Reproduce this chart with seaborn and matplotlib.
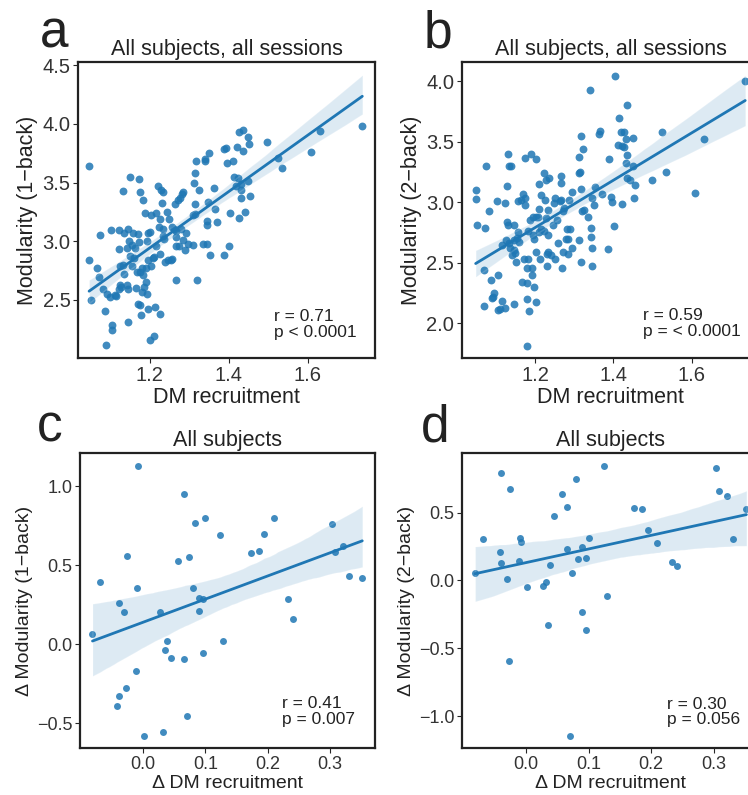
import numpy as np
import pandas as pd
import matplotlib.pyplot as plt
import seaborn as sns

# Panel a: DM recruitment vs modularity (1-back), all subjects, all sessions
dm_a = [1.738, 1.632, 1.609, 1.524, 1.536, 1.498, 1.435, 1.427, 1.450, 1.451,
        1.420, 1.435, 1.393, 1.389, 1.350, 1.341, 1.341, 1.396, 1.412, 1.414,
        1.423, 1.418, 1.432, 1.450, 1.432, 1.454, 1.431, 1.364, 1.325, 1.348,
        1.366, 1.344, 1.344, 1.371, 1.404, 1.425, 1.442, 1.335, 1.345, 1.402,
        1.354, 1.387,
        1.047, 1.151, 1.174, 1.222, 1.134, 1.175, 1.230, 1.234, 1.284, 1.282,
        1.183, 1.278, 1.273, 1.232, 1.265, 1.314, 1.315, 1.313, 1.317, 1.189,
        1.203, 1.216, 1.245, 1.227, 1.249, 1.310, 1.315, 1.102, 1.122, 1.145,
        1.136, 1.157, 1.171, 1.195, 1.202, 1.223, 1.235, 1.257, 1.262, 1.266,
        1.280, 1.293, 1.075, 1.233, 1.268, 1.237, 1.194, 1.174, 1.147, 1.285,
        1.296, 1.310, 1.156, 1.164, 1.144, 1.216, 1.267, 1.274, 1.290, 1.123,
        1.227, 1.151, 1.161, 1.197, 1.208, 1.211, 1.238, 1.247, 1.254, 1.257,
        1.132, 1.126, 1.180, 1.192, 1.203, 1.156, 1.047, 1.068, 1.175, 1.168,
        1.184, 1.135, 1.071, 1.191, 1.267, 1.319, 1.124, 1.143, 1.186, 1.127,
        1.122, 1.145, 1.166, 1.081, 1.092, 1.100, 1.112, 1.116, 1.180, 1.194,
        1.052, 1.170, 1.177, 1.195, 1.213, 1.086, 1.178, 1.226, 1.145, 1.106,
        1.104, 1.201, 1.211, 1.090]
mod_1back = [3.983, 3.943, 3.764, 3.707, 3.622, 3.849, 3.949, 3.929, 3.884, 3.832,
             3.801, 3.773, 3.798, 3.784, 3.756, 3.702, 3.685, 3.670, 3.685, 3.543,
             3.537, 3.474, 3.438, 3.509, 3.489, 3.389, 3.366, 3.452, 3.432, 3.330,
             3.276, 3.173, 3.139, 3.162, 3.239, 3.196, 3.247, 2.974, 2.977, 2.960,
             2.881, 2.878,
             3.642, 3.545, 3.526, 3.474, 3.429, 3.415, 3.432, 3.415, 3.415, 3.401,
             3.355, 3.372, 3.347, 3.324, 3.315, 3.318, 3.585, 3.497, 3.685, 3.244,
             3.224, 3.241, 3.247, 3.190, 3.188, 3.222, 3.230, 3.091, 3.097, 3.105,
             3.068, 3.068, 3.063, 3.071, 3.074, 3.122, 3.105, 3.122, 3.105, 3.088,
             3.102, 3.068, 3.051, 3.040, 3.034, 3.017, 3.003, 2.991, 3.003, 3.006,
             2.974, 2.966, 2.966, 2.940, 2.938, 2.955, 2.955, 2.955, 2.926, 2.929,
             2.889, 2.869, 2.855, 2.841, 2.855, 2.864, 2.818, 2.841, 2.841, 2.849,
             2.798, 2.784, 2.770, 2.770, 2.784, 2.784, 2.835, 2.770, 2.736, 2.733,
             2.713, 2.719, 2.693, 2.653, 2.670, 2.668, 2.628, 2.628, 2.605, 2.605,
             2.594, 2.594, 2.599, 2.591, 2.548, 2.526, 2.537, 2.528, 2.562, 2.551,
             2.500, 2.463, 2.457, 2.420, 2.436, 2.403, 2.369, 2.375, 2.310, 2.281,
             2.244, 2.159, 2.188, 2.111]

# Panel b: DM recruitment vs modularity (2-back)
dm_b = [1.131, 1.075, 1.133, 1.139, 1.175, 1.190, 1.203, 1.048, 1.048, 1.129,
        1.103, 1.124, 1.083, 1.157, 1.164, 1.169, 1.174, 1.175, 1.209, 1.223,
        1.227, 1.236, 1.265, 1.265, 1.216, 1.224, 1.209, 1.233, 1.251, 1.249,
        1.264, 1.267, 1.273, 1.270, 1.286, 1.294, 1.318, 1.315, 1.312, 1.312,
        1.323, 1.316, 1.052, 1.072, 1.129, 1.130, 1.146, 1.186, 1.194, 1.202,
        1.207, 1.228, 1.182, 1.157, 1.215, 1.210, 1.223, 1.232, 1.246, 1.256,
        1.281, 1.290, 1.279, 1.285, 1.312, 1.320, 1.325, 1.334, 1.343, 1.350,
        1.345, 1.354, 1.344, 1.346, 1.318, 1.345, 1.126, 1.115, 1.132, 1.146,
        1.153, 1.159, 1.137, 1.147, 1.140, 1.149, 1.151, 1.194, 1.196, 1.171,
        1.183, 1.203, 1.213, 1.231, 1.234, 1.240, 1.251, 1.259, 1.271, 1.283,
        1.295, 1.231, 1.269, 1.180, 1.191, 1.192, 1.069, 1.104, 1.088, 1.167,
        1.179, 1.197, 1.096, 1.093, 1.091, 1.115, 1.069, 1.106, 1.110, 1.123,
        1.147, 1.180, 1.201, 1.184, 1.179, 1.340,
        1.404, 1.737, 1.435, 1.414, 1.366, 1.363, 1.420, 1.427, 1.432, 1.449,
        1.525, 1.631, 1.412, 1.422, 1.427, 1.435, 1.390, 1.431, 1.450, 1.434,
        1.443, 1.454, 1.498, 1.535, 1.370, 1.393, 1.396, 1.421, 1.452, 1.608,
        1.402, 1.387]
mod_2back = [3.402, 3.300, 3.303, 3.303, 3.367, 3.400, 3.361, 3.101, 3.026, 3.131,
             3.010, 2.993, 2.927, 3.010, 3.021, 3.068, 3.032, 2.979, 3.151, 3.239,
             3.187, 3.198, 3.214, 3.159, 3.057, 3.015, 2.941, 2.935, 3.037, 2.993,
             3.010, 3.015, 2.954, 2.924, 3.018, 3.082, 3.109, 3.248, 3.240, 3.375,
             3.441, 3.552, 2.813, 2.791, 2.838, 2.816, 2.813, 2.855, 2.882, 2.882,
             2.879, 2.866, 2.763, 2.750, 2.777, 2.750, 2.763, 2.733, 2.811, 2.855,
             2.777, 2.777, 2.700, 2.700, 2.689, 2.924, 2.935, 2.879, 2.786, 2.979,
             3.035, 3.126, 2.716, 2.625, 2.506, 2.473, 2.692, 2.645, 2.667, 2.689,
             2.702, 2.675, 2.625, 2.606, 2.564, 2.578, 2.506, 2.727, 2.694, 2.528,
             2.531, 2.589, 2.533, 2.569, 2.586, 2.564, 2.533, 2.660, 2.586, 2.569,
             2.622, 2.473, 2.459, 2.459, 2.459, 2.401, 2.440, 2.396, 2.360, 2.343,
             2.334, 2.302, 2.252, 2.216, 2.205, 2.180, 2.144, 2.113, 2.119, 2.127,
             2.155, 2.196, 2.177, 2.102, 1.815, 3.931,
             4.044, 4.003, 3.806, 3.698, 3.593, 3.563, 3.580, 3.582, 3.524, 3.535,
             3.577, 3.521, 3.474, 3.463, 3.461, 3.391, 3.355, 3.325, 3.303, 3.198,
             3.187, 3.142, 3.187, 3.250, 3.065, 3.040, 2.999, 2.982, 3.037, 3.079,
             2.802, 2.617]

# Panels c and d: change in DM recruitment vs change in modularity, all subjects
dm_delta = [-0.081, -0.069, -0.042, -0.039, -0.039, -0.030, -0.027, -0.025, -0.011, -0.009,
            -0.008, 0.002, 0.028, 0.032, 0.036, 0.038, 0.045, 0.057, 0.066, 0.066,
            0.071, 0.074, 0.080, 0.084, 0.090, 0.090, 0.096, 0.096, 0.100, 0.124,
            0.129, 0.173, 0.186, 0.195, 0.210, 0.233, 0.241, 0.303, 0.309, 0.321,
            0.330, 0.352]
dmod_1back = [0.065, 0.395, -0.392, 0.262, -0.327, 0.205, -0.278, 0.561, -0.171, 0.354,
              1.131, -0.580, 0.203, -0.553, -0.036, 0.019, -0.086, 0.530, 0.949, -0.093,
              -0.456, 0.553, 0.359, 0.766, 0.291, 0.211, 0.285, -0.055, 0.800, 0.690,
              0.019, 0.578, 0.591, 0.698, 0.802, 0.287, 0.158, 0.762, 0.582, 0.620,
              0.435, 0.420]
dmod_2back = [0.052, 0.305, 0.209, 0.791, 0.125, 0.007, -0.595, 0.676, 0.140, 0.312,
              0.285, -0.052, -0.044, -0.010, -0.332, 0.115, 0.474, 0.636, 0.538, 0.231,
              -1.145, 0.057, 0.747, 0.157, 0.246, -0.236, 0.167, -0.369, 0.312, 0.845,
              -0.113, 0.531, 0.526, 0.371, 0.278, 0.135, 0.103, 0.828, 0.658, 0.619,
              0.302, 0.523]

# Tick labels shown on each panel
ticks_x_ab = [1.2, 1.4, 1.6]
ticks_y_a = [2.5, 3.0, 3.5, 4.0, 4.5]
ticks_y_b = [2.0, 2.5, 3.0, 3.5, 4.0]
ticks_x_cd = [0.0, 0.1, 0.2, 0.3]
ticks_y_c = [-0.5, 0.0, 0.5, 1.0]
ticks_y_d = [-1.0, -0.5, 0.0, 0.5]

blue = '#1f77b4'

sns.set_style('ticks')
plt.rcParams['font.family'] = ['Liberation Sans', 'DejaVu Sans']
plt.rcParams['axes.edgecolor'] = '#222222'
plt.rcParams['axes.linewidth'] = 1.6
plt.rcParams['xtick.major.size'] = 3.5
plt.rcParams['ytick.major.size'] = 3.5
plt.rcParams['text.color'] = '#222222'
plt.rcParams['axes.labelcolor'] = '#222222'
plt.rcParams['xtick.labelcolor'] = '#333333'
plt.rcParams['ytick.labelcolor'] = '#333333'


def draw_panel(ax, x, y, title, xlabel, ylabel, stats, xticks, yticks, xlim, ylim,
               dot_size, font, tick_font, stats_pos):
    sns.regplot(x=np.array(x), y=np.array(y), ax=ax, color=blue, ci=95,
                n_boot=1000, seed=0,
                scatter_kws={'s': dot_size, 'alpha': 0.85, 'linewidths': 0},
                line_kws={'lw': 2})
    ax.set_title(title, fontsize=15.5, pad=5)
    ax.set_xlabel(xlabel, fontsize=font, labelpad=2)
    ax.set_ylabel(ylabel, fontsize=font, labelpad=3)
    ax.set_xticks(xticks)
    ax.set_yticks(yticks)
    ax.set_xlim(xlim)
    ax.set_ylim(ylim)
    ax.tick_params(labelsize=tick_font, pad=2)
    ax.text(stats_pos[0], stats_pos[1], stats, transform=ax.transAxes,
            fontsize=12.5, ha='left', va='bottom', linespacing=1.05)


fig = plt.figure(figsize=(7.48, 7.95), dpi=100)
ax_a = fig.add_axes([0.1043, 0.5497, 0.397, 0.3723])
ax_b = fig.add_axes([0.6176, 0.5497, 0.397, 0.3723])
ax_c = fig.add_axes([0.107, 0.0591, 0.394, 0.371])
ax_d = fig.add_axes([0.6176, 0.0591, 0.397, 0.371])

draw_panel(ax_a, dm_a, mod_1back, 'All subjects, all sessions', 'DM recruitment',
           'Modularity (1\u2212back)', 'r = 0.71\np < 0.0001', ticks_x_ab, ticks_y_a,
           (1.019, 1.770), (2.003, 4.528), 32, 15.5, 14.5, (0.66, 0.062))
draw_panel(ax_b, dm_b, mod_2back, 'All subjects, all sessions', 'DM recruitment',
           'Modularity (2\u2212back)', 'r = 0.59\np = < 0.0001', ticks_x_ab, ticks_y_b,
           (1.013, 1.772), (1.712, 4.160), 32, 15.5, 14.5, (0.61, 0.065))
draw_panel(ax_c, dm_delta, dmod_1back, 'All subjects', '\u0394 DM recruitment',
           '\u0394 Modularity (1\u2212back)', 'r = 0.41\np = 0.007', ticks_x_cd, ticks_y_c,
           (-0.101, 0.372), (-0.656, 1.211), 25, 14, 13, (0.685, 0.072))
draw_panel(ax_d, dm_delta, dmod_2back, 'All subjects', '\u0394 DM recruitment',
           '\u0394 Modularity (2\u2212back)', 'r = 0.30\np = 0.056', ticks_x_cd, ticks_y_d,
           (-0.102, 0.372), (-1.236, 0.939), 25, 14, 13, (0.69, 0.07))

# Panel letters
for letter, px, py in [('a', 40, 47), ('b', 424, 47), ('c', 37, 441), ('d', 421, 441)]:
    fig.text(px / 748, 1 - py / 795, letter, fontsize=37, ha='left', va='baseline')

fig.savefig('out.png', dpi=100)
